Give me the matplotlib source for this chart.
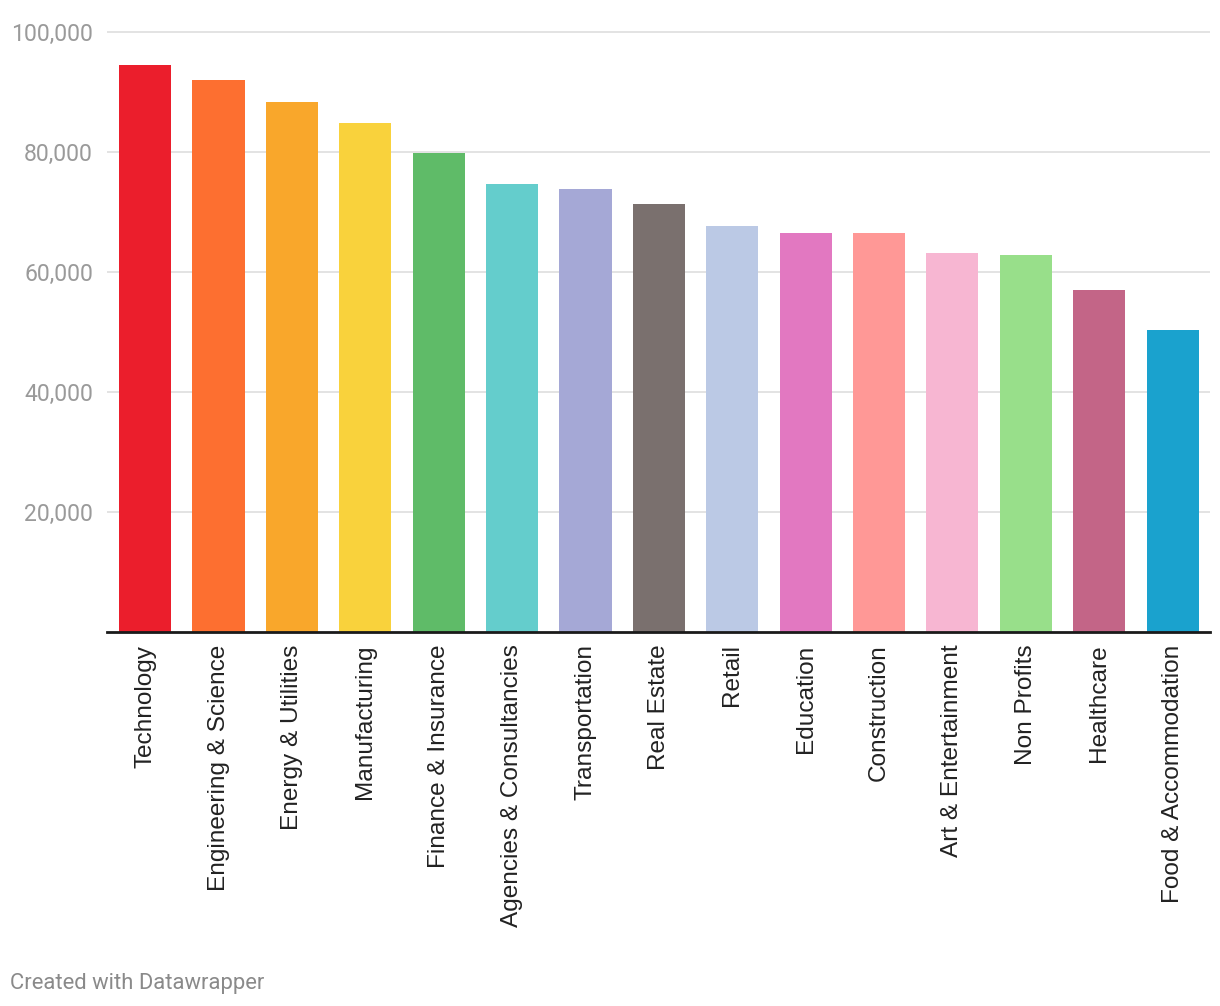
import matplotlib
matplotlib.use("Agg")
import matplotlib.pyplot as plt
from matplotlib.ticker import FuncFormatter

categories = ["Technology", "Engineering & Science", "Energy & Utilities", "Manufacturing",
              "Finance & Insurance", "Agencies & Consultancies", "Transportation", "Real Estate",
              "Retail", "Education", "Construction", "Art & Entertainment", "Non Profits",
              "Healthcare", "Food & Accommodation"]
values = [94500, 92000, 88300, 84800, 79800, 74700, 73800, 71300, 67700, 66500, 66500,
          63200, 62800, 57000, 50300]
colors = ["#eb1e2c", "#fd6f30", "#f9a72b", "#f9d23c", "#5fbb68", "#64cdcc", "#a5a8d6",
          "#7a706e", "#bbc9e5", "#e278c1", "#ff9896", "#f7b6d2", "#98df8a", "#c36587",
          "#1aa2ce"]
yticks = [20000, 40000, 60000, 80000, 100000]

plt.rcParams['font.family'] = ['Roboto', 'DejaVu Sans']

W, H = 1220, 1006
fig = plt.figure(figsize=(W / 100, H / 100), dpi=100)
ymax = 101000
px_per = 600 / 100000
top_px = 632 - ymax * px_per
ax = fig.add_axes([107 / W, 1 - 632 / H, (1210 - 107) / W, (632 - top_px) / H])

x = list(range(len(categories)))
ax.bar(x, values, width=0.71, color=colors, zorder=3)
ax.set_xlim(-0.52, len(categories) - 1 + 0.51)
ax.set_ylim(0, ymax)

ax.set_yticks(yticks)
ax.yaxis.set_major_formatter(FuncFormatter(lambda v, p: f"{int(v):,}"))
ax.tick_params(axis='y', length=0, pad=10, labelsize=16.6, labelcolor="#9a9a9a")
ax.grid(axis='y', color="#e3e3e3", linewidth=1.4, zorder=0)

ax.set_xticks(x)
ax.set_xticklabels(categories, rotation=90, fontsize=17.6, color="#222222",
                   family=['Liberation Sans', 'DejaVu Sans'])
ax.tick_params(axis='x', length=0, pad=9)

for s in ["top", "right", "left"]:
    ax.spines[s].set_visible(False)
ax.spines["bottom"].set_color("#1a1a1a")
ax.spines["bottom"].set_linewidth(2)
ax.spines["bottom"].set_zorder(4)

fig.text(10 / W, 1 - 983 / H, "Created with Datawrapper", fontsize=15.8, color="#8a8a8a",
         ha="left", va="center")

fig.savefig("out.png", dpi=100, facecolor="white")
